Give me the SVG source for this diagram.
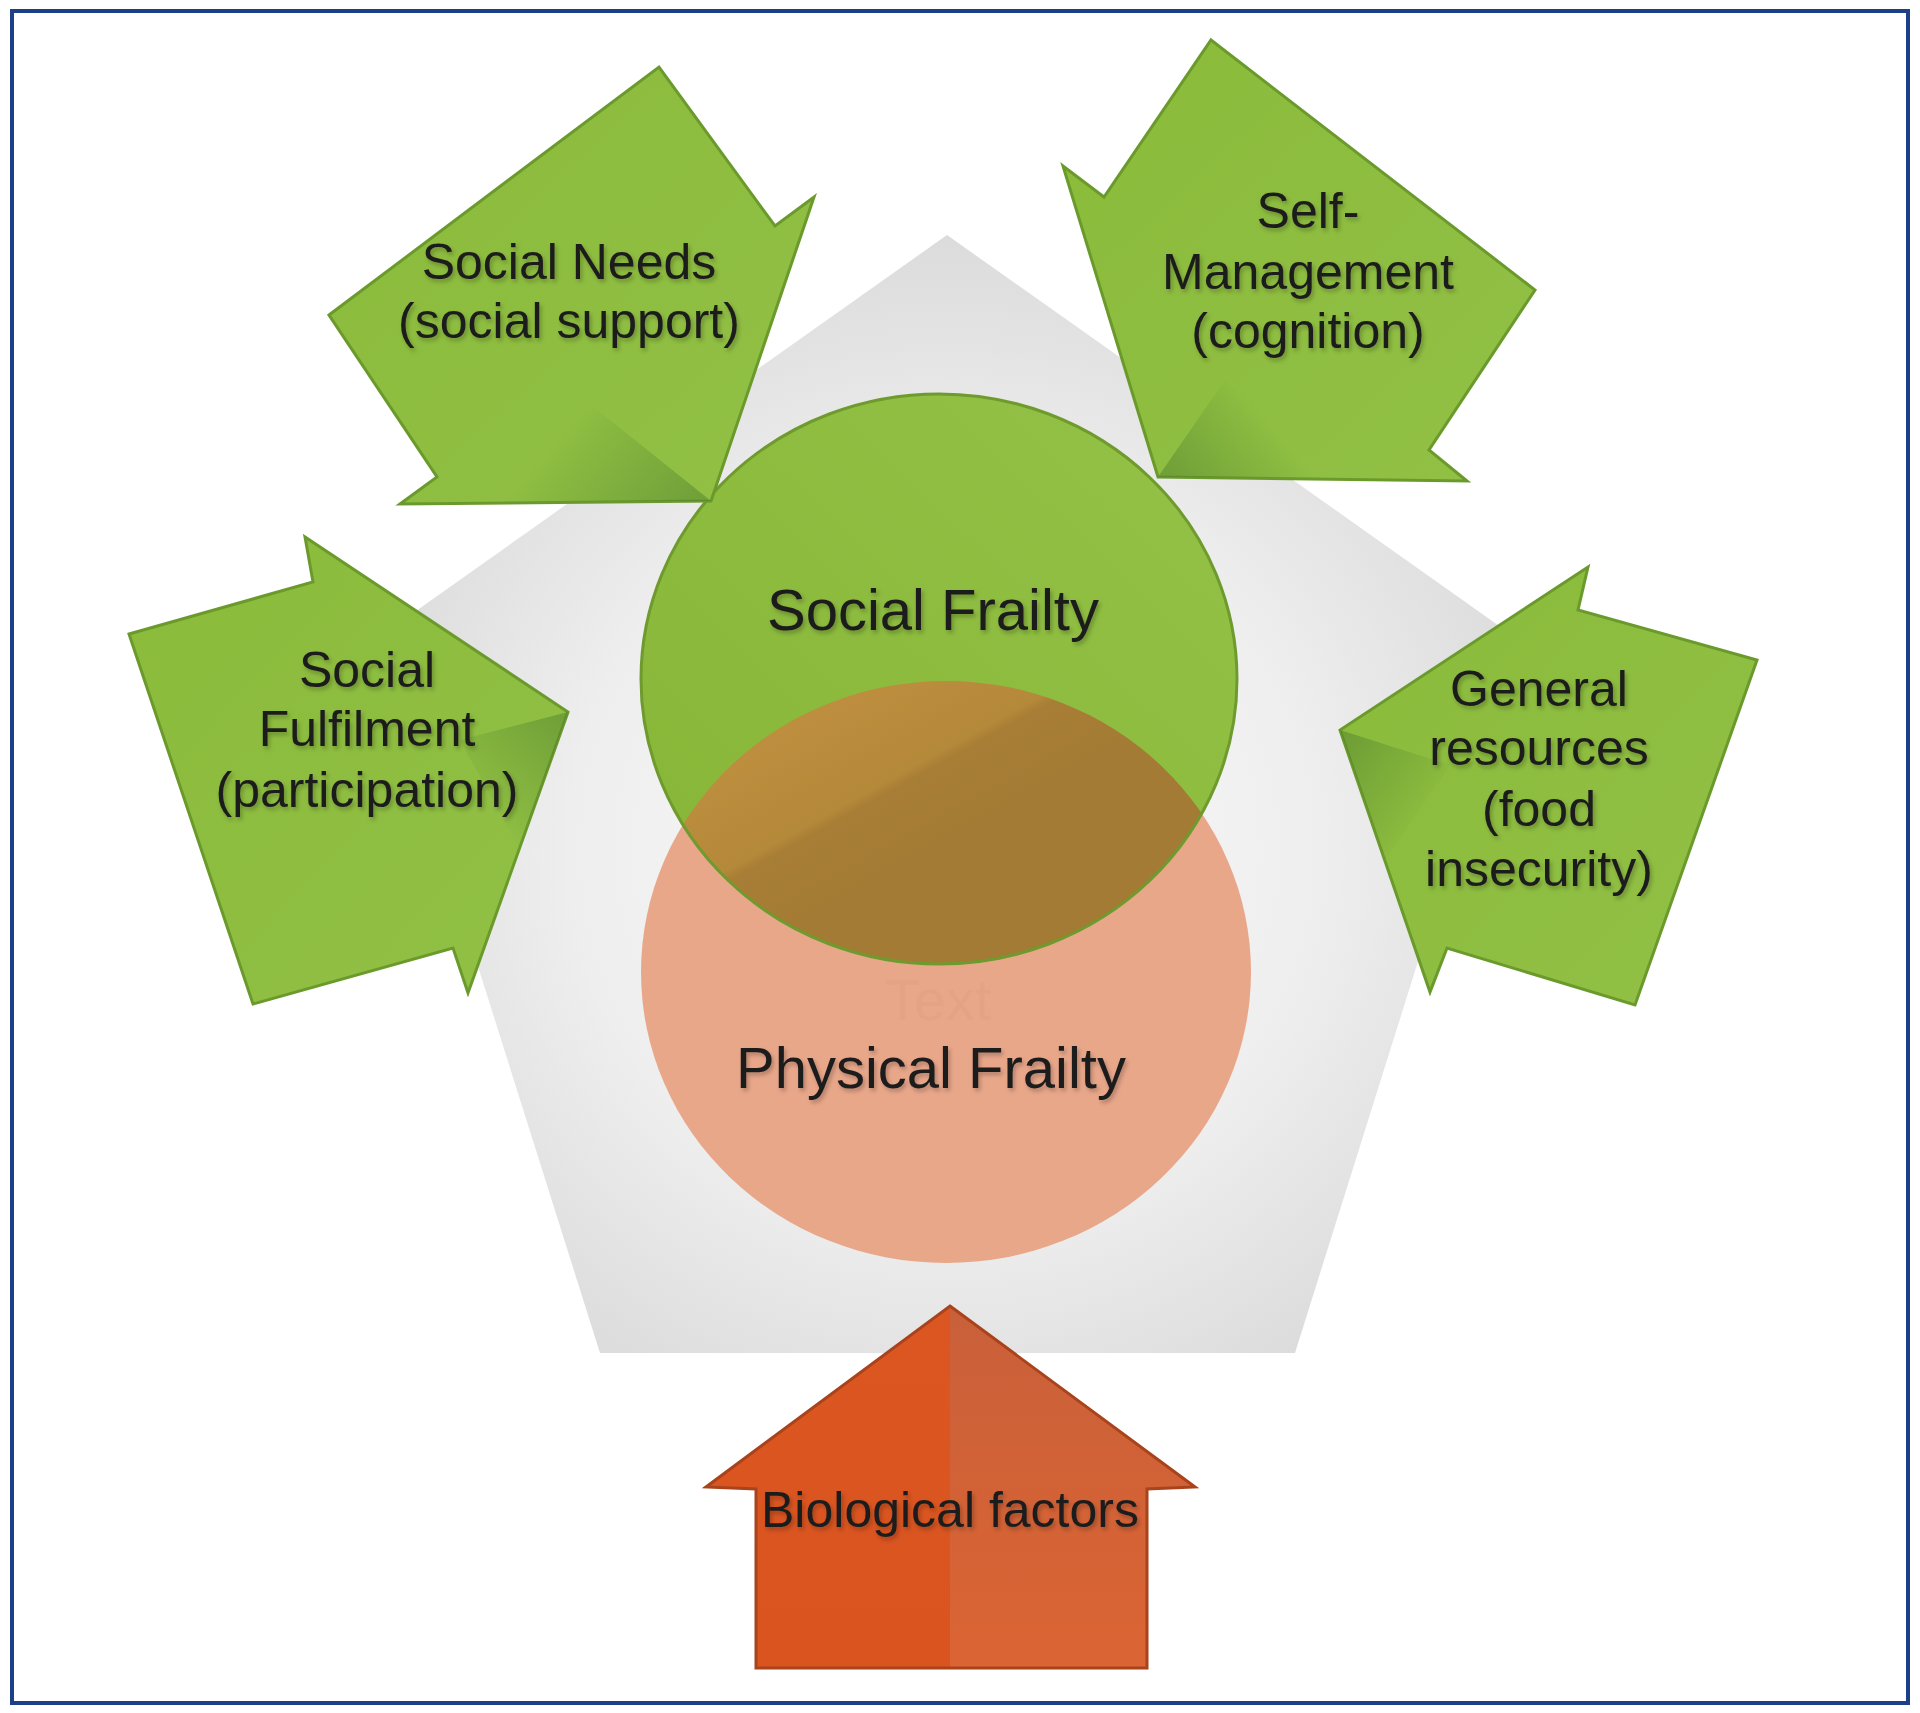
<svg xmlns="http://www.w3.org/2000/svg" width="1920" height="1713" viewBox="0 0 1920 1713">
  <defs>
    <radialGradient id="pentGrad" cx="50%" cy="55%" r="60%">
      <stop offset="0" stop-color="#fbfbfb"/>
      <stop offset="0.55" stop-color="#eeeeee"/>
      <stop offset="1" stop-color="#d7d7d7"/>
    </radialGradient>
    <linearGradient id="greenCircle" x1="0" y1="1" x2="1" y2="0">
      <stop offset="0" stop-color="#86b536"/>
      <stop offset="1" stop-color="#93c247"/>
    </linearGradient>
    <linearGradient id="overlapGrad" gradientUnits="userSpaceOnUse" x1="800" y1="700" x2="900" y2="880">
      <stop offset="0" stop-color="#be8f3f"/>
      <stop offset="0.55" stop-color="#b5893a"/>
      <stop offset="0.6" stop-color="#a87e36"/>
      <stop offset="1" stop-color="#a47b34"/>
    </linearGradient>
    <linearGradient id="arrowGreen" x1="0" y1="0" x2="1" y2="1">
      <stop offset="0" stop-color="#8bbb3a"/>
      <stop offset="1" stop-color="#91c046"/>
    </linearGradient>
    <linearGradient id="shadeSN" gradientUnits="userSpaceOnUse" x1="700" y1="495" x2="590" y2="400">
      <stop offset="0" stop-color="#4a7a2c" stop-opacity="0.45"/>
      <stop offset="1" stop-color="#4a7a2c" stop-opacity="0"/>
    </linearGradient>
    <linearGradient id="shadeSM" gradientUnits="userSpaceOnUse" x1="1165" y1="472" x2="1250" y2="400">
      <stop offset="0" stop-color="#4a7a2c" stop-opacity="0.45"/>
      <stop offset="1" stop-color="#4a7a2c" stop-opacity="0"/>
    </linearGradient>
    <linearGradient id="shadeSF" gradientUnits="userSpaceOnUse" x1="560" y1="715" x2="470" y2="800">
      <stop offset="0" stop-color="#4a7a2c" stop-opacity="0.45"/>
      <stop offset="1" stop-color="#4a7a2c" stop-opacity="0"/>
    </linearGradient>
    <linearGradient id="shadeGR" gradientUnits="userSpaceOnUse" x1="1348" y1="735" x2="1440" y2="800">
      <stop offset="0" stop-color="#4a7a2c" stop-opacity="0.45"/>
      <stop offset="1" stop-color="#4a7a2c" stop-opacity="0"/>
    </linearGradient>
    <linearGradient id="bioLeft" x1="0" y1="0" x2="0" y2="1">
      <stop offset="0" stop-color="#dc5622"/>
      <stop offset="1" stop-color="#d9541f"/>
    </linearGradient>
    <linearGradient id="bioRight" x1="0" y1="0" x2="0" y2="1">
      <stop offset="0" stop-color="#c9603a"/>
      <stop offset="1" stop-color="#db6433"/>
    </linearGradient>
    <filter id="txtShadow" x="-10%" y="-20%" width="120%" height="150%">
      <feDropShadow dx="2" dy="3" stdDeviation="2" flood-color="#000000" flood-opacity="0.25"/>
    </filter>
    <clipPath id="greenClip">
      <ellipse cx="939" cy="679" rx="298" ry="285"/>
    </clipPath>
  </defs>
  <style>
    .arrow { fill: url(#arrowGreen); stroke: #6b9a2c; stroke-width: 3; stroke-linejoin: miter; }
    .lbl { font-family: "Liberation Sans", Arial, sans-serif; font-size: 50px; fill: #1c1c1c; text-anchor: middle; filter: url(#txtShadow); }
    .big { font-size: 58px; }
  </style>

  <rect x="0" y="0" width="1920" height="1713" fill="#ffffff"/>
  <rect id="frame" x="12" y="11" width="1896" height="1692" fill="none" stroke="#1d3f88" stroke-width="4"/>

  <g id="pentagon">
    <polygon points="947,235 1519,640 1295,1353 600,1353 375,640" fill="url(#pentGrad)"/>
  </g>

  <g id="physical-frailty">
    <ellipse cx="946" cy="972" rx="305" ry="291" fill="#e9a78a"/>
    <text x="938" y="1020" font-family="Liberation Sans, Arial, sans-serif" font-size="58" fill="#e4a386" text-anchor="middle">Text</text>
  </g>

  <g id="social-frailty">
    <ellipse cx="939" cy="679" rx="298" ry="285" fill="url(#greenCircle)"/>
    <ellipse cx="946" cy="972" rx="305" ry="291" fill="url(#overlapGrad)" clip-path="url(#greenClip)"/>
    <ellipse cx="939" cy="679" rx="298" ry="285" fill="none" stroke="#6f9a2e" stroke-width="3"/>
    <text class="lbl big" x="933" y="630">Social Frailty</text>
  </g>

  <text class="lbl big" x="931" y="1088">Physical Frailty</text>

  <g id="social-needs">
    <polygon class="arrow" points="329,315 659,67 775,226 814,197 711,501 400,504 437,477"/>
    <polygon points="711,501 560,380 470,502" fill="url(#shadeSN)"/>
    <text class="lbl" x="569" y="279">Social Needs</text>
    <text class="lbl" x="569" y="338">(social support)</text>
  </g>

  <g id="self-management">
    <polygon class="arrow" points="1211,40 1535,290 1429,450 1467,481 1158,477 1063,166 1104,197"/>
    <polygon points="1158,477 1225,380 1330,478" fill="url(#shadeSM)"/>
    <text class="lbl" x="1308" y="228">Self-</text>
    <text class="lbl" x="1308" y="289">Management</text>
    <text class="lbl" x="1308" y="348">(cognition)</text>
  </g>

  <g id="social-fulfilment">
    <polygon class="arrow" points="129,634 313,582 305,537 568,712 468,993 453,948 253,1004"/>
    <polygon points="568,712 460,740 520,850" fill="url(#shadeSF)"/>
    <text class="lbl" x="367" y="687">Social</text>
    <text class="lbl" x="367" y="746">Fulfilment</text>
    <text class="lbl" x="367" y="807">(participation)</text>
  </g>

  <g id="general-resources">
    <polygon class="arrow" points="1588,567 1578,610 1757,660 1635,1005 1447,948 1430,992 1340,730"/>
    <polygon points="1340,730 1450,765 1385,860" fill="url(#shadeGR)"/>
    <text class="lbl" x="1539" y="706">General</text>
    <text class="lbl" x="1539" y="765">resources</text>
    <text class="lbl" x="1539" y="826">(food</text>
    <text class="lbl" x="1539" y="886">insecurity)</text>
  </g>

  <g id="biological-factors">
    <polygon points="950,1306 706,1487 756,1489 756,1668 950,1668" fill="url(#bioLeft)"/>
    <polygon points="950,1306 1195,1487 1147,1489 1147,1668 950,1668" fill="url(#bioRight)"/>
    <polygon points="950,1306 1195,1487 1147,1489 1147,1668 756,1668 756,1489 706,1487" fill="none" stroke="#a8431c" stroke-width="3"/>
    <text class="lbl" x="950" y="1527">Biological factors</text>
  </g>
</svg>
